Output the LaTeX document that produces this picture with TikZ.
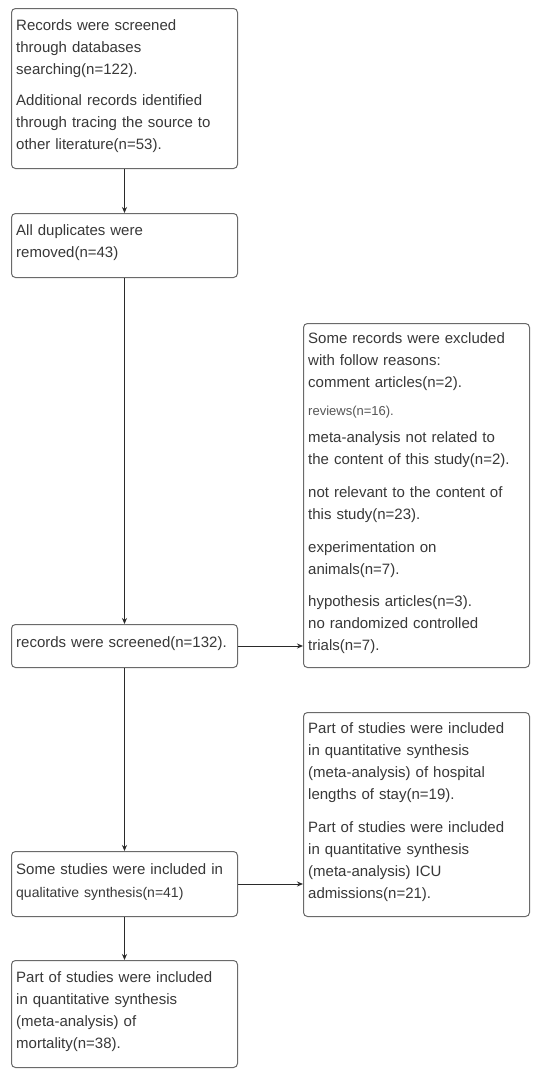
\documentclass[tikz,border=0pt]{standalone}
\usepackage{fontspec}
\setmainfont{Liberation Sans}
\usetikzlibrary{arrows.meta,calc}
\definecolor{boxline}{HTML}{6A6A6A}
\definecolor{txt}{HTML}{383838}
\definecolor{lighttxt}{HTML}{555555}
\definecolor{arrowc}{HTML}{2A2A2A}
\begin{document}
\begin{tikzpicture}[x=1pt,y=-1pt,
  box/.style={draw=boxline, line width=1pt, rounded corners=4pt, anchor=north west, inner sep=0pt, minimum width=226pt},
  txtnode/.style={anchor=base west, inner sep=0pt, text width=222pt, align=left, text=txt, font=\fontsize{15}{22}\selectfont},
  arr/.style={draw=arrowc, line width=1pt, -{Stealth[length=6pt,width=5pt]}}]
\useasboundingbox[fill=white] (0,0) rectangle (550,1077);
% boxes
\node[box, minimum height=160pt] (A) at (11,8) {};
\node[box, minimum height=64pt] (B) at (11,213) {};
\node[box, minimum height=43pt] (C) at (11,624) {};
\node[box, minimum height=344pt] (D) at (303,323) {};
\node[box, minimum height=65pt] (E) at (11,851) {};
\node[box, minimum height=204pt] (F) at (303,712) {};
\node[box, minimum height=107pt] (G) at (11,960) {};
% texts
\node[txtnode] (At) at (16,30) {Records were screened\\ through databases\\ searching(n=122).\\[9pt] Additional records identified\\ through tracing the source to\\ other literature(n=53).};
\node[txtnode] (Bt) at (16,235) {All duplicates were\\ removed(n=43)};
\node[txtnode] (Ct) at (16,647) {records were screened(n=132).};
\node[txtnode] (Dt) at (308,343) {Some records were excluded\\ with follow reasons:\\ comment articles(n=2).\\[6pt] {\fontsize{13}{22}\selectfont\color{lighttxt}reviews(n=16).}\\[5pt] meta-analysis not related to\\ the content of this study(n=2).\\[11pt] not relevant to the content of\\ this study(n=23).\\[11pt] experimentation on\\ animals(n=7).\\[10pt] hypothesis articles(n=3).\\ no randomized controlled\\ trials(n=7).};
\node[txtnode] (Et) at (16,874) {Some studies were included in\\[1pt] {\fontsize{14}{22}\selectfont qualitative synthesis(n=41)}};
\node[txtnode] (Ft) at (308,733) {Part of studies were included\\ in quantitative synthesis\\ (meta-analysis) of hospital\\ lengths of stay(n=19).\\[11pt] Part of studies were included\\ in quantitative synthesis\\ (meta-analysis) ICU\\ admissions(n=21).};
\node[txtnode] (Gt) at (16,982) {Part of studies were included\\ in quantitative synthesis\\ (meta-analysis) of\\ mortality(n=38).};
% connectors
\draw[arr] (A.south) -- (B.north);
\draw[arr] (B.south) -- (C.north);
\draw[arr] (C.south) -- (E.north);
\draw[arr] (E.south) -- (G.north);
\draw[arr] (C.east) -- (C.east -| D.west);
\draw[arr] (E.east) -- (E.east -| F.west);
\end{tikzpicture}
\end{document}
